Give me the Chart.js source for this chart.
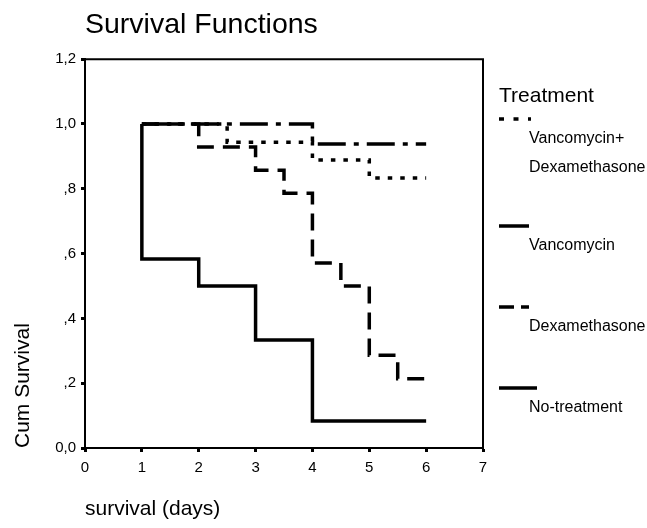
<!DOCTYPE html>
<html>
<head>
<meta charset="utf-8">
<script src="https://cdn.jsdelivr.net/npm/chart.js@4.4.1/dist/chart.umd.min.js"></script>
<style>
    html, body { margin: 0; padding: 0; background: #fff; }
    #wrap { width: 647px; height: 528px; }
</style>
</head>
<body>
<div id="wrap"><canvas id="km"></canvas></div>
<script>
const FONT = '"Liberation Sans", Arial, sans-serif';

// Kaplan-Meier estimates: survival after each event time (days)
const vdTimes    = [1, 2.5, 4, 5, 6];
const vdSurv     = [1.0, 0.944, 0.889, 0.833, 0.833];
const vancoTimes = [1, 4, 6];
const vancoSurv  = [1.0, 0.938, 0.938];
const dexTimes   = [1, 2, 3, 3.5, 4, 4.5, 5, 5.5, 6];
const dexSurv    = [1.0, 0.929, 0.857, 0.786, 0.571, 0.5, 0.286, 0.214, 0.214];
const noTxTimes  = [1, 1, 2, 3, 4, 6];
const noTxSurv   = [1.0, 0.583, 0.5, 0.333, 0.083, 0.083];

const groups = ['Vancomycin+\nDexamethasone', 'Vancomycin', 'Dexamethasone', 'No-treatment'];
const xTicks = ['0', '1', '2', '3', '4', '5', '6', '7'];
const yTicks = ['0,0', ',2', ',4', ',6', ',8', '1,0', '1,2'];

const toPts = (ts, ss) => ts.map((t, i) => ({ x: t, y: ss[i] }));

function makeDataset(label, pts, dash, legendDash, legendLen) {
    return {
        label,
        data: pts,
        borderColor: '#000',
        borderWidth: 3.5,
        borderDash: dash,
        borderCapStyle: 'butt',
        borderJoinStyle: 'miter',
        stepped: true,
        pointRadius: 0,
        fill: false,
        legendDash,
        legendLen,
    };
}

// draws the box frame and the stacked SPSS style legend
const kmFrame = {
    id: 'kmFrame',
    afterDraw(chart) {
        const { ctx, chartArea: a } = chart;
        ctx.save();
        ctx.strokeStyle = '#000';
        ctx.lineWidth = 2;
        ctx.setLineDash([]);
        ctx.beginPath();
        ctx.moveTo(a.left, a.top);
        ctx.lineTo(a.right, a.top);
        ctx.lineTo(a.right, a.bottom);
        ctx.stroke();

        const lx = a.right + 16;
        ctx.fillStyle = '#000';
        ctx.textBaseline = 'middle';
        ctx.textAlign = 'left';
        ctx.font = `21px ${FONT}`;
        ctx.fillText('Treatment', lx, 96);

        let y = 119;
        chart.data.datasets.forEach(ds => {
            ctx.lineWidth = 3.5;
            ctx.setLineDash(ds.legendDash);
            ctx.beginPath();
            ctx.moveTo(lx, y);
            ctx.lineTo(lx + ds.legendLen, y);
            ctx.stroke();
            ctx.setLineDash([]);
            ctx.font = `16px ${FONT}`;
            const lines = ds.label.split('\n');
            lines.forEach((ln, k) => ctx.fillText(ln, lx + 30, y + 20 + k * 29));
            y += 81 + (lines.length - 1) * 26;
        });
        ctx.restore();
    },
};

new Chart(document.getElementById('km'), {
    type: 'line',
    data: {
        datasets: [
            makeDataset(groups[0], toPts(vdTimes, vdSurv), [4.5, 8], [5, 9.5], 32),
            makeDataset(groups[1], toPts(vancoTimes, vancoSurv), [28, 8, 5, 8], [], 30),
            makeDataset(groups[2], toPts(dexTimes, dexSurv), [17, 9], [15, 7], 30),
            makeDataset(groups[3], toPts(noTxTimes, noTxSurv), [], [], 38),
        ],
    },
    options: {
        responsive: true,
        maintainAspectRatio: false,
        animation: false,
        events: [],
        layout: { padding: { left: 0, right: 164, top: 0, bottom: 0 } },
        plugins: {
            legend: { display: false },
            tooltip: { enabled: false },
            title: {
                display: true,
                text: 'Survival Functions',
                align: 'start',
                fullSize: false,
                color: '#000',
                font: { family: FONT, size: 28.5, weight: 'normal', lineHeight: 1.2 },
                padding: { top: 8, bottom: 17 },
            },
        },
        scales: {
            x: {
                type: 'linear',
                min: 0,
                max: 7,
                afterFit: s => { s.height = 80; },
                afterBuildTicks: s => { s.ticks = xTicks.map((_, i) => ({ value: i })); },
                ticks: {
                    color: '#000',
                    font: { family: FONT, size: 15 },
                    padding: 7,
                    maxRotation: 0,
                    callback: (v, i) => xTicks[i],
                },
                grid: { drawOnChartArea: false, drawTicks: true, tickLength: 4, tickWidth: 3, tickColor: '#000' },
                border: { display: true, color: '#000', width: 2 },
                title: {
                    display: true,
                    text: 'survival (days)',
                    align: 'start',
                    color: '#000',
                    font: { family: FONT, size: 21 },
                    padding: { top: 0, bottom: 6 },
                },
            },
            y: {
                min: 0,
                max: 1.2,
                afterFit: s => { s.width = 85; },
                afterBuildTicks: s => { s.ticks = yTicks.map((_, i) => ({ value: i * 0.2 })); },
                ticks: {
                    color: '#000',
                    font: { family: FONT, size: 15 },
                    padding: 5,
                    callback: (v, i) => yTicks[i],
                },
                grid: { drawOnChartArea: false, drawTicks: true, tickLength: 4, tickWidth: 3, tickColor: '#000' },
                border: { display: true, color: '#000', width: 2 },
                title: {
                    display: true,
                    text: 'Cum Survival',
                    align: 'start',
                    color: '#000',
                    font: { family: FONT, size: 21 },
                    padding: { top: 11, bottom: 0 },
                },
            },
        },
    },
    plugins: [kmFrame],
});
</script>
</body>
</html>
